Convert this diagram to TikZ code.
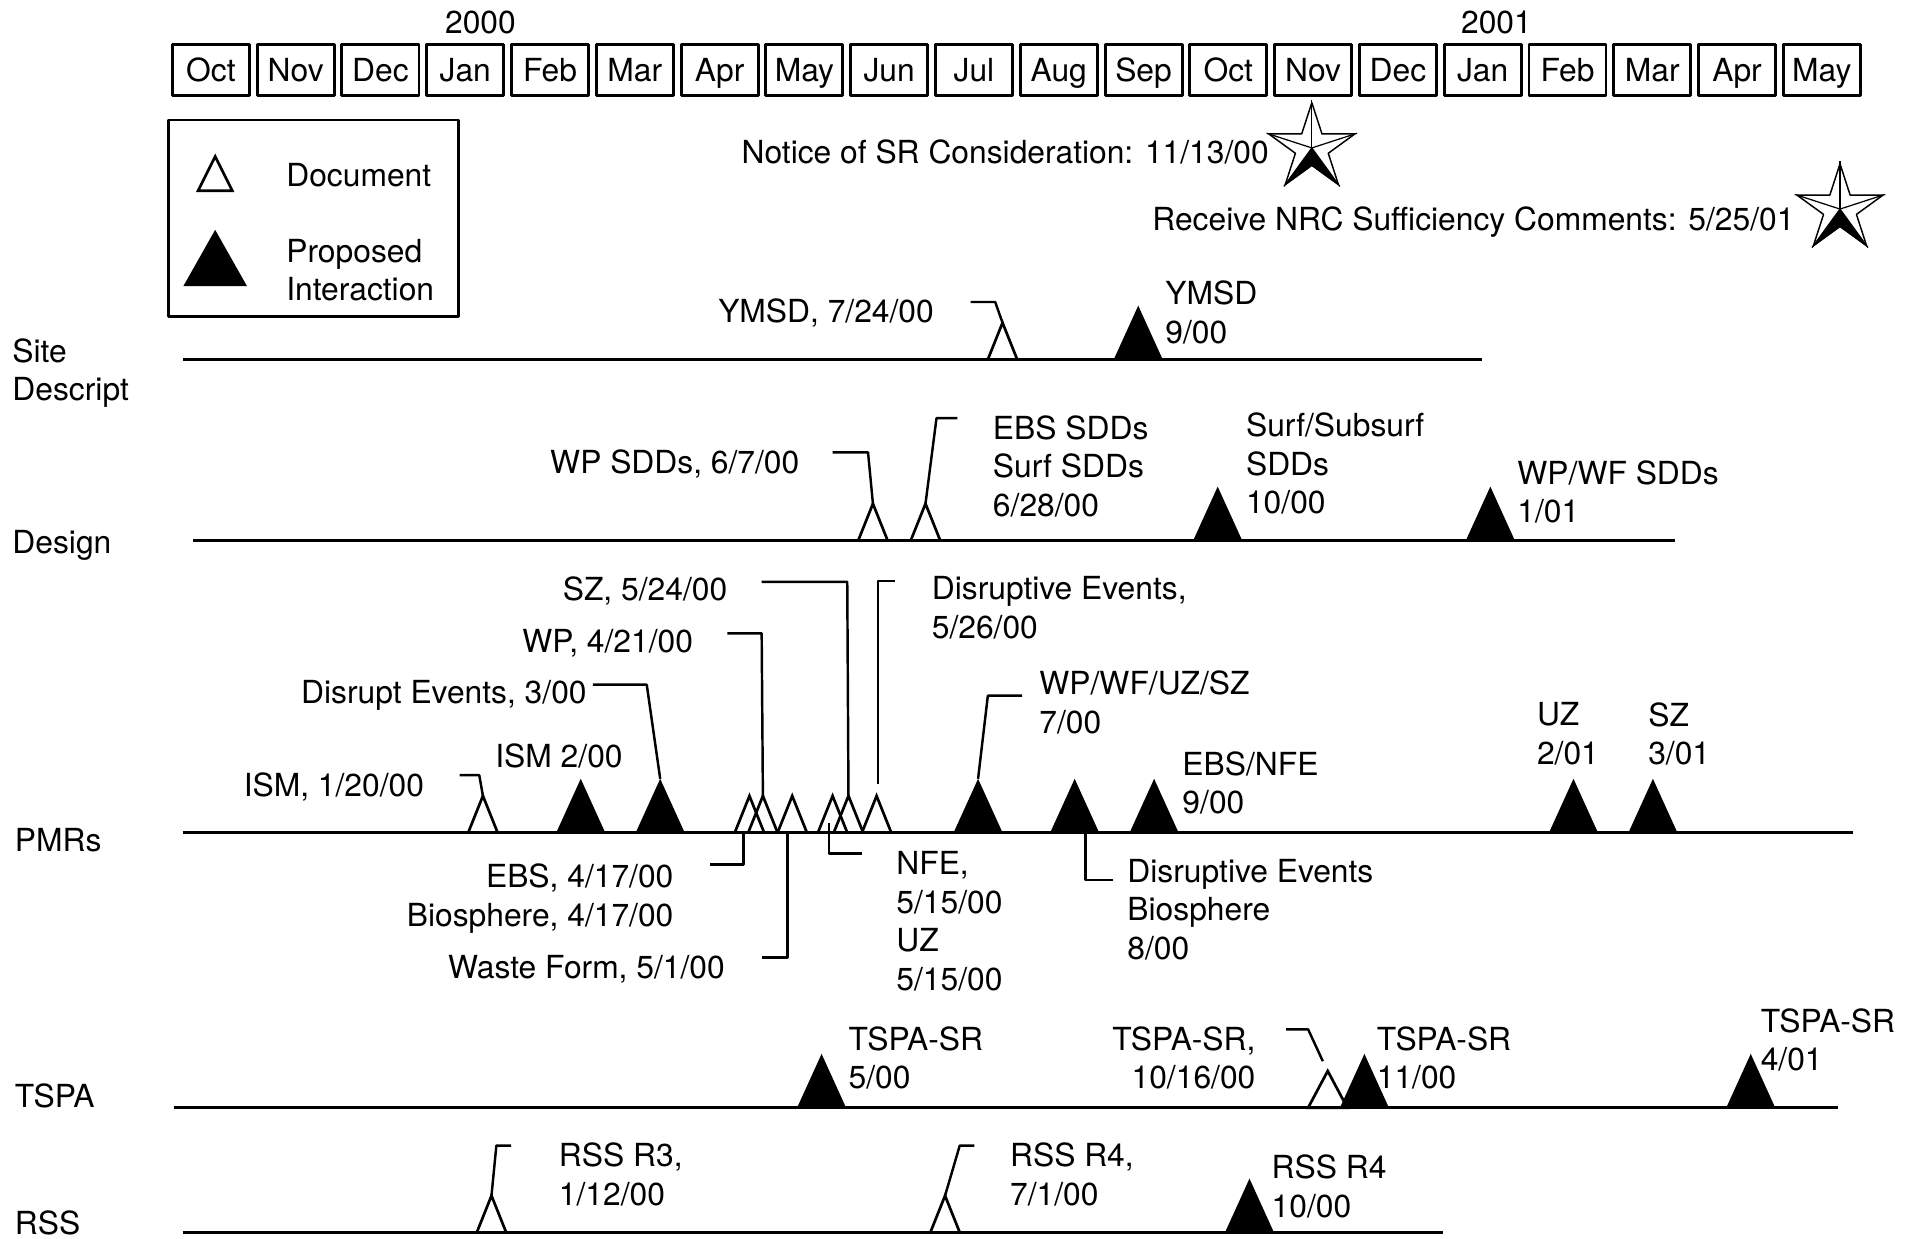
\documentclass[tikz,border=0pt]{standalone}
\usepackage{fontspec}
\setmainfont{TeX Gyre Heros}
\usetikzlibrary{calc}
\usetikzlibrary{positioning}
\usetikzlibrary{shapes.geometric}

\tikzset{
  monthbox/.style={draw, line width=2.4pt, minimum width=63pt, minimum height=41.5pt,
    inner sep=0pt, text height=18.5pt, text depth=0pt},
  lbl/.style={inner sep=0pt, align=left},
  lblr/.style={inner sep=0pt, align=right},
  rowline/.style={line width=2.4pt},
  docline/.style={line width=2.2pt, line join=miter},
  leader/.style={line width=2pt},
  srstar/.style={star, star points=5, star point ratio=2.618, minimum size=74pt,
    inner sep=0pt, draw, line width=1.2pt},
}

% open triangle: [half width] x, base y, name (apex = name, base = name-b)
\newcommand{\docmark}[4][12]{%
  \draw[docline] (#2-#1,#3) -- (#2,#3-30) -- (#2+#1,#3) -- cycle;
  \coordinate (#4) at (#2,#3-30);
  \coordinate (#4-b) at (#2,#3);}
% filled triangle: x, base y, name
\newcommand{\intmark}[3]{%
  \fill (#1-20,#2) -- (#1,#2-44) -- (#1+20,#2) -- cycle;
  \coordinate (#3) at (#1,#2-44);
  \coordinate (#3-b) at (#1,#2);}

\begin{document}
\begin{tikzpicture}[x=1pt, y=-1pt, line join=round, font=\fontsize{26}{31.5}\selectfont]
  \useasboundingbox (0,0) rectangle (1568,1013);

  % month strip
  \foreach \m [count=\i from 0] in {Oct,Nov,Dec,Jan,Feb,Mar,Apr,May,Jun,Jul,Aug,Sep,
                                     Oct,Nov,Dec,Jan,Feb,Mar,Apr,May}{
    \node[monthbox] (mon\i) at ({172.5+69.35*\i},57) {\m};
  }
  \node[lbl, anchor=north] (yr0) at (393,8.5) {2000};
  \node[lbl, anchor=north] (yr1) at (1224,8.5) {2001};

  % legend
  \draw[line width=2pt] (138,98) rectangle (375,259);
  \draw[docline] (162,156) -- (176,128) -- (190,156) -- cycle;
  \fill (150,234) -- (176,188) -- (202,234) -- cycle;
  \node[lbl, anchor=north west] (lgdoc) at (234,133.5) {Document};
  \node[lbl, anchor=north west] (lgint) at (234,195.5) {Proposed\\Interaction};

  % milestones
  \node[srstar] (st1) at (1073,121) {};
  \fill (st1.center) -- (st1.outer point 3) -- (st1.inner point 3) -- (st1.outer point 4) -- cycle;
  \foreach \k in {1,...,5} \draw[line width=1pt] (st1.center) -- (st1.outer point \k);
  \node[srstar] (st2) at (1505,171) {};
  \fill (st2.center) -- (st2.outer point 3) -- (st2.inner point 3) -- (st2.outer point 4) -- cycle;
  \foreach \k in {1,...,5} \draw[line width=1pt] (st2.center) -- (st2.outer point \k);
  \node[lbl, anchor=north east] (notice) at (1038,114.5) {Notice of SR Consideration: 11/13/00};
  \node[lbl, anchor=north east] (nrc) at (1468,168.5) {Receive NRC Sufficiency Comments: 5/25/01};

  % row names
  \node[lbl, anchor=north west] (rsite) at (10,276.5) {Site\\Descript};
  \node[lbl, anchor=north west] (rdes) at (10,433.5) {Design};
  \node[lbl, anchor=north west] (rpmr) at (12,677.5) {PMRs};
  \node[lbl, anchor=north west] (rtspa) at (12,886.5) {TSPA};
  \node[lbl, anchor=north west] (rrss) at (12,990.5) {RSS};

  % row lines
  \draw[rowline] (150,294) -- (1212,294);
  \draw[rowline] (158,442) -- (1370,442);
  \draw[rowline] (150,681) -- (1516,681);
  \draw[rowline] (142,906) -- (1503,906);
  \draw[rowline] (150,1008) -- (1180,1008);

  % site description
  \docmark{820}{294}{ymsd}
  \intmark{931}{294}{ymsdint}
  \draw[leader] (ymsd) -- ++(-6,-17) -- ++(-20,0);
  \node[lbl, anchor=north east] (lymsd) at (764,244.5) {YMSD, 7/24/00};
  \node[lbl, anchor=north west] (lymsdint) at (953,229.5) {YMSD\\9/00};

  % design
  \docmark{714}{442}{wpsdd}
  \docmark{757}{442}{ebssdd}
  \intmark{996}{442}{surf}
  \intmark{1219}{442}{wpwf}
  \draw[leader] (wpsdd) -- ++(-4,-42) -- ++(-29,0);
  \draw[leader] (ebssdd) -- ++(9,-70) -- ++(17,0);
  \node[lbl, anchor=north east] (lwpsdd) at (654,367.5) {WP SDDs, 6/7/00};
  \node[lbl, anchor=north west] (lebssdd) at (812,339.5) {EBS SDDs\\Surf SDDs\\6/28/00};
  \node[lbl, anchor=north west] (lsurf) at (1019,337.5) {Surf/Subsurf\\SDDs\\10/00};
  \node[lbl, anchor=north west] (lwpwf) at (1241,376.5) {WP/WF SDDs\\1/01};

  % PMRs
  \docmark{395}{681}{ism}
  \intmark{475}{681}{ism2}
  \intmark{540}{681}{dis3}
  \docmark{613}{681}{ebs}
  \docmark{624}{681}{wp}
  \docmark{648}{681}{wf}
  \docmark{681}{681}{nfe}
  \docmark{694}{681}{sz}
  \docmark{717}{681}{de}
  \intmark{800}{681}{wwus}
  \intmark{879}{681}{de8}
  \intmark{944}{681}{ebsnfe}
  \intmark{1287}{681}{uz}
  \intmark{1352}{681}{sz3}
  \draw[leader] (ism) -- ++(-3,-17) -- ++(-16,0);
  \draw[leader] (dis3) -- ++(-11,-77) -- ++(-44,0);
  \draw[leader] (wp) -- ++(-1,-133) -- ++(-28,0);
  \draw[leader] (sz) -- ++(-1,-175) -- ++(-70,0);
  \draw[leader] (de) ++(1,-10) -- ++(0,-166) -- ++(14,0);
  \draw[leader] (ebs-b) ++(-5,0) -- ++(0,26) -- ++(-27,0);
  \draw[leader] (wf-b) ++(-4,0) -- ++(0,102) -- ++(-21,0);
  \draw[leader] (nfe-b) ++(-3,-8) -- ++(0,25) -- ++(27,0);
  \draw[leader] (wwus) -- ++(8,-68) -- ++(28,0);
  \draw[leader] (de8-b) ++(9,0) -- ++(0,39) -- ++(22,0);
  \node[lbl, anchor=north east] (lism) at (347,631.5) {ISM, 1/20/00};
  \node[lbl, anchor=north west] (lism2) at (405,608.5) {ISM 2/00};
  \node[lbl, anchor=north east] (ldis3) at (480,556.5) {Disrupt Events, 3/00};
  \node[lbl, anchor=north east] (lwp) at (567,514.5) {WP, 4/21/00};
  \node[lbl, anchor=north east] (lsz) at (595,471.5) {SZ, 5/24/00};
  \node[lbl, anchor=north west] (lde) at (762,471.5) {Disruptive Events,\\5/26/00};
  \node[lblr, anchor=north east] (lebs) at (551,706.5) {EBS, 4/17/00\\Biosphere, 4/17/00};
  \node[lbl, anchor=north east] (lwf) at (593,781.5) {Waste Form, 5/1/00};
  \node[lbl, anchor=north west] (lnfe) at (733,696.5) {NFE,\\5/15/00\\UZ\\5/15/00};
  \node[lbl, anchor=north west] (lwwus) at (850,548.5) {WP/WF/UZ/SZ\\7/00};
  \node[lbl, anchor=north west] (lde8) at (922,702.5) {Disruptive Events\\Biosphere\\8/00};
  \node[lbl, anchor=north west] (lebsnfe) at (967,614.5) {EBS/NFE\\9/00};
  \node[lbl, anchor=north west] (luz) at (1257,574.5) {UZ\\2/01};
  \node[lbl, anchor=north west] (lsz3) at (1348,574.5) {SZ\\3/01};

  % TSPA
  \intmark{672}{906}{ts5}
  \docmark[16]{1086}{906}{tsdoc}
  \intmark{1116}{906}{ts11}
  \intmark{1432}{906}{ts4}
  \draw[leader] (tsdoc) ++(-4,-8) -- ++(-12,-26) -- ++(-18,0);
  \node[lbl, anchor=north west] (lts5) at (694,839.5) {TSPA-SR\\5/00};
  \node[lblr, anchor=north east] (ltsdoc) at (1027,839.5) {TSPA-SR,\\10/16/00};
  \node[lbl, anchor=north west] (lts11) at (1126,839.5) {TSPA-SR\\11/00};
  \node[lbl, anchor=north west] (lts4) at (1440,824.5) {TSPA-SR\\4/01};

  % RSS
  \docmark{402}{1008}{rss3}
  \docmark{773}{1008}{rss4}
  \intmark{1022}{1008}{rss10}
  \draw[leader] (rss3) -- ++(4,-41) -- ++(12,0);
  \draw[leader] (rss4) -- ++(12,-41) -- ++(12,0);
  \node[lbl, anchor=north west] (lrss3) at (457,934.5) {RSS R3,\\1/12/00};
  \node[lbl, anchor=north west] (lrss4) at (826,934.5) {RSS R4,\\7/1/00};
  \node[lbl, anchor=north west] (lrss10) at (1040,944.5) {RSS R4\\10/00};
\end{tikzpicture}
\end{document}
